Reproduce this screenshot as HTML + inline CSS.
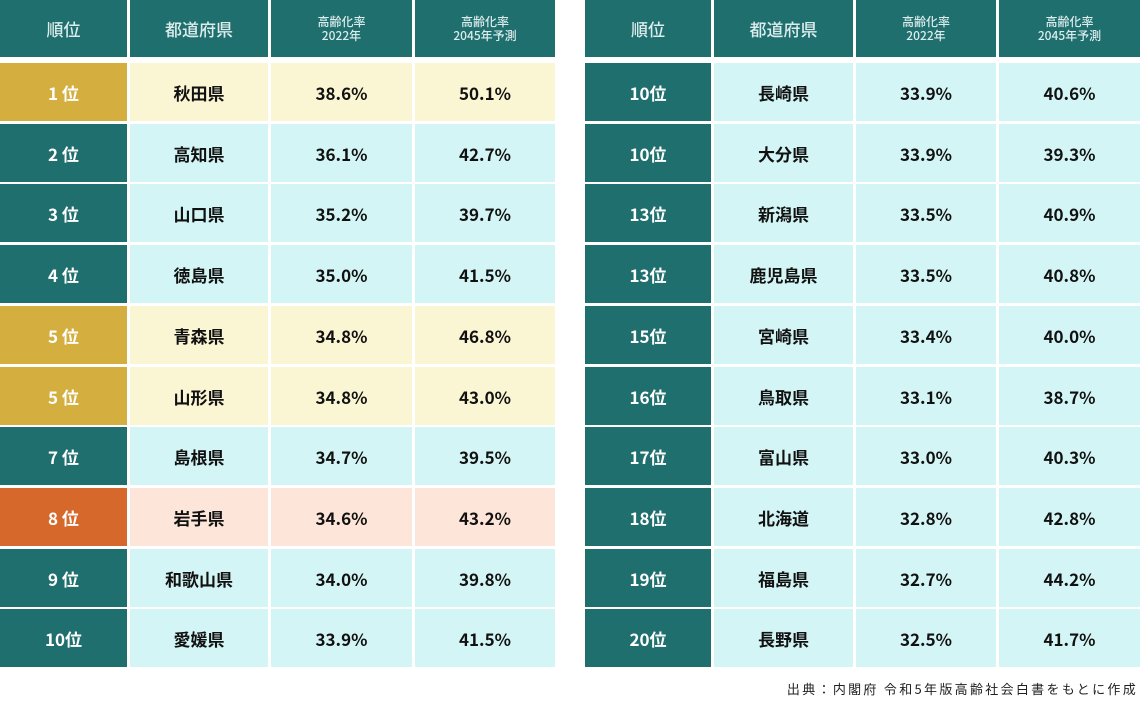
<!DOCTYPE html>
<html><head><meta charset="utf-8"><style>
body{margin:0;width:1140px;height:711px;background:#fff;position:relative;overflow:hidden;font-family:"Noto Sans CJK JP","Liberation Sans",sans-serif;}
.c{position:absolute;display:flex;align-items:center;justify-content:center;font-weight:bold;font-size:17px;color:#111;line-height:1;}
.h{background:#1f6f6e;color:#dcecec;font-weight:500;font-size:17px;line-height:1.15;text-align:center;}
.hs{font-size:12px;}
.r{background:#1f6f6e;color:#fff;}
.g{background:#d4af3f;color:#fff;}
.o{background:#d6682b;color:#fff;}
.y{background:#faf5d3;}
.b{background:#d4f5f5;}
.p{background:#fde6d9;}
.src{position:absolute;right:2px;top:679px;font-size:13px;color:#222;letter-spacing:2.3px;}
</style></head><body>
<div id="t"></div>
<div class="src">出典：内閣府 令和5年版高齢社会白書をもとに作成</div>
<script>
const L=[["1 位","秋田県","38.6%","50.1%","g","y"],["2 位","高知県","36.1%","42.7%","r","b"],["3 位","山口県","35.2%","39.7%","r","b"],["4 位","徳島県","35.0%","41.5%","r","b"],["5 位","青森県","34.8%","46.8%","g","y"],["5 位","山形県","34.8%","43.0%","g","y"],["7 位","島根県","34.7%","39.5%","r","b"],["8 位","岩手県","34.6%","43.2%","o","p"],["9 位","和歌山県","34.0%","39.8%","r","b"],["10位","愛媛県","33.9%","41.5%","r","b"]];
const R=[["10位","長崎県","33.9%","40.6%"],["10位","大分県","33.9%","39.3%"],["13位","新潟県","33.5%","40.9%"],["13位","鹿児島県","33.5%","40.8%"],["15位","宮崎県","33.4%","40.0%"],["16位","鳥取県","33.1%","38.7%"],["17位","富山県","33.0%","40.3%"],["18位","北海道","32.8%","42.8%"],["19位","福島県","32.7%","44.2%"],["20位","長野県","32.5%","41.7%"]];
let h="";
function cell(x,y,w,ht,cls,txt){h+=`<div class="c ${cls}" style="left:${x}px;top:${y}px;width:${w}px;height:${ht}px;white-space:pre">${txt}</div>`;}
function table(cols,data,right){
 const hd=["順位","都道府県","<span class='hs'>高齢化率<br>2022年</span>","<span class='hs'>高齢化率<br>2045年予測</span>"];
 cols.forEach((c,i)=>cell(c[0],0,c[1],57,"h",hd[i]));
 data.forEach((d,r)=>{const y=Math.round(63+r*60.7);
  const rc=right?"r":d[4],bc=right?"b":d[5];
  cols.forEach((c,i)=>cell(c[0],y,c[1],58,i==0?rc:bc,d[i]));});
}
table([[0,127],[130,138],[271,141],[415,140]],L,false);
table([[585,126],[714,139],[856,140],[999,141]],R,true);
document.getElementById("t").innerHTML=h;
</script>
</body></html>
